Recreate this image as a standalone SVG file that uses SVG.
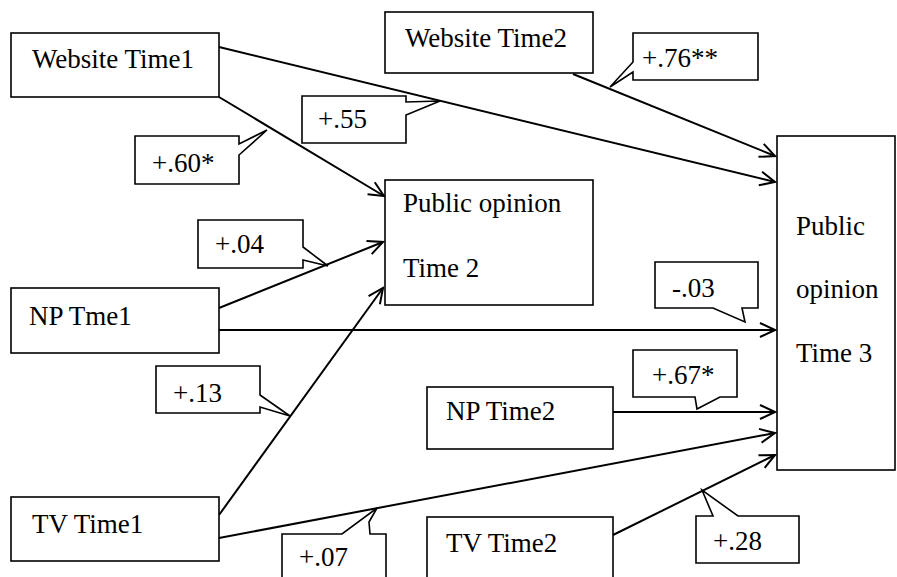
<svg xmlns="http://www.w3.org/2000/svg" width="897" height="577" viewBox="0 0 897 577">
<defs>
<marker id="arr" markerUnits="userSpaceOnUse" markerWidth="20" markerHeight="20" viewBox="-18 -10 20 20" refX="0" refY="0" orient="auto">
<path d="M-15,-7 L0,0 L-15,7" fill="none" stroke="#000" stroke-width="2"/>
</marker>
</defs>
<rect width="897" height="577" fill="#fff"/>
<g id="connectors" stroke="#000" stroke-width="2" fill="none">
<line x1="219" y1="97" x2="384" y2="196" marker-end="url(#arr)"/>
<line x1="219" y1="47" x2="775" y2="182" marker-end="url(#arr)"/>
<line x1="573" y1="74" x2="775" y2="156" marker-end="url(#arr)"/>
<line x1="219" y1="308" x2="383" y2="242" marker-end="url(#arr)"/>
<line x1="219" y1="330" x2="775" y2="330" marker-end="url(#arr)"/>
<line x1="219" y1="515" x2="383" y2="288" marker-end="url(#arr)"/>
<line x1="219" y1="538" x2="775" y2="433" marker-end="url(#arr)"/>
<line x1="613" y1="412" x2="775" y2="412" marker-end="url(#arr)"/>
<line x1="613" y1="535" x2="775" y2="455" marker-end="url(#arr)"/>
</g>
<g id="website-time1"><rect fill="#fff" stroke="#000" stroke-width="1.6" x="11" y="33" width="208" height="64"/><text style="font-family:'Times New Roman','Liberation Serif',serif;font-size:27px" x="32" y="68">Website Time1</text></g>
<g id="website-time2"><rect fill="#fff" stroke="#000" stroke-width="1.6" x="385" y="12" width="208" height="61"/><text style="font-family:'Times New Roman','Liberation Serif',serif;font-size:27px" x="405" y="47">Website Time2</text></g>
<g id="po-time2"><rect fill="#fff" stroke="#000" stroke-width="1.6" x="385" y="180" width="208" height="125"/><text style="font-family:'Times New Roman','Liberation Serif',serif;font-size:27px" x="403" y="212">Public opinion</text><text style="font-family:'Times New Roman','Liberation Serif',serif;font-size:27px" x="403" y="277">Time 2</text></g>
<g id="np-time1"><rect fill="#fff" stroke="#000" stroke-width="1.6" x="11" y="288" width="208" height="65"/><text style="font-family:'Times New Roman','Liberation Serif',serif;font-size:27px" x="29" y="325">NP Tme1</text></g>
<g id="np-time2"><rect fill="#fff" stroke="#000" stroke-width="1.6" x="427" y="387" width="186" height="62"/><text style="font-family:'Times New Roman','Liberation Serif',serif;font-size:27px" x="446" y="420">NP Time2</text></g>
<g id="tv-time1"><rect fill="#fff" stroke="#000" stroke-width="1.6" x="11" y="497" width="208" height="64"/><text style="font-family:'Times New Roman','Liberation Serif',serif;font-size:27px" x="32" y="533">TV Time1</text></g>
<g id="tv-time2"><rect fill="#fff" stroke="#000" stroke-width="1.6" x="427" y="517" width="186" height="80"/><text style="font-family:'Times New Roman','Liberation Serif',serif;font-size:27px" x="446" y="552">TV Time2</text></g>
<g id="po-time3"><rect fill="#fff" stroke="#000" stroke-width="1.6" x="777" y="136" width="118" height="334"/><text style="font-family:'Times New Roman','Liberation Serif',serif;font-size:27px" x="796" y="235">Public</text><text style="font-family:'Times New Roman','Liberation Serif',serif;font-size:27px" x="796" y="298">opinion</text><text style="font-family:'Times New Roman','Liberation Serif',serif;font-size:27px" x="796" y="362">Time 3</text></g>
<g id="lbl-60"><path fill="#fff" stroke="#000" stroke-width="1.6" d="M135,136 H239 V144 L267,130 L239,155 V184 H135 Z"/><text style="font-family:'Times New Roman','Liberation Serif',serif;font-size:27px" x="152" y="172">+.60*</text></g>
<g id="lbl-55"><path fill="#fff" stroke="#000" stroke-width="1.6" d="M302,96 H406 V102 L440,101 L406,115 V143 H302 Z"/><text style="font-family:'Times New Roman','Liberation Serif',serif;font-size:27px" x="318" y="128">+.55</text></g>
<g id="lbl-76"><path fill="#fff" stroke="#000" stroke-width="1.6" d="M633,33 H758 V80 H633 V72 L610,87 L633,62 Z"/><text style="font-family:'Times New Roman','Liberation Serif',serif;font-size:27px" x="642" y="67">+.76**</text></g>
<g id="lbl-04"><path fill="#fff" stroke="#000" stroke-width="1.6" d="M198,220 H303 V247 L328,266 L303,260 V268 H198 Z"/><text style="font-family:'Times New Roman','Liberation Serif',serif;font-size:27px" x="215" y="253">+.04</text></g>
<g id="lbl-03"><path fill="#fff" stroke="#000" stroke-width="1.6" d="M655,262 H758 V308 H742 L745,322 L713,308 H655 Z"/><text style="font-family:'Times New Roman','Liberation Serif',serif;font-size:27px" x="672" y="297">-.03</text></g>
<g id="lbl-13"><path fill="#fff" stroke="#000" stroke-width="1.6" d="M156,366 H260 V395 L290,416 L260,407 V413 H156 Z"/><text style="font-family:'Times New Roman','Liberation Serif',serif;font-size:27px" x="173" y="402">+.13</text></g>
<g id="lbl-67"><path fill="#fff" stroke="#000" stroke-width="1.6" d="M633,350 H737 V397 H720 L697,409 L695,397 H633 Z"/><text style="font-family:'Times New Roman','Liberation Serif',serif;font-size:27px" x="652" y="384">+.67*</text></g>
<g id="lbl-07"><path fill="#fff" stroke="#000" stroke-width="1.6" d="M282,600 V534 H342 L377,508 L369,522 L370,534 H386 V600 Z"/><text style="font-family:'Times New Roman','Liberation Serif',serif;font-size:27px" x="299" y="566">+.07</text></g>
<g id="lbl-28"><path fill="#fff" stroke="#000" stroke-width="1.6" d="M696,516 H713 L702,490 L738,516 H799 V563 H696 Z"/><text style="font-family:'Times New Roman','Liberation Serif',serif;font-size:27px" x="713" y="550">+.28</text></g>
</svg>
